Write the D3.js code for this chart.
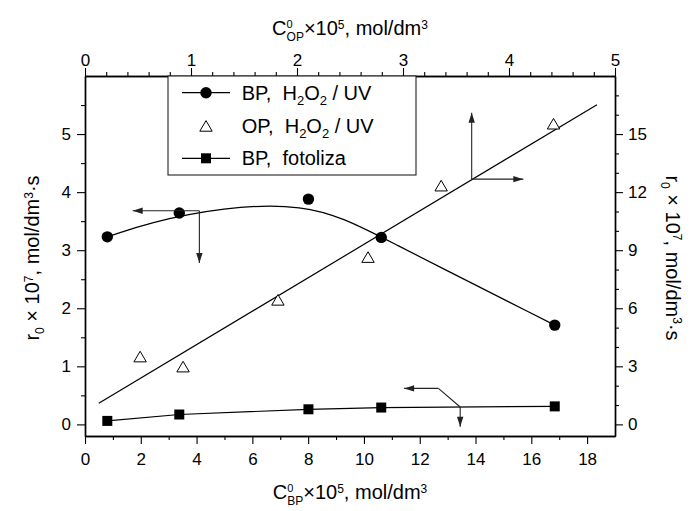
<!DOCTYPE html>
<html><head><meta charset="utf-8">
<script src="https://cdn.jsdelivr.net/npm/d3@7"></script>
<style>
body{margin:0;background:#fff;}
svg text{font-family: Arial, "Liberation Sans", Helvetica, sans-serif; fill:#000; white-space:pre;}
</style></head><body>
<svg id="c" width="692" height="511"></svg>
<script>
// ---- data ----
const bpConc      = [0.80, 3.38, 8.01, 10.62, 16.84];      // C0_BP x10^5 mol/dm3 (bottom axis)
const bpH2O2UV    = [3.23, 3.64, 3.88, 3.22, 1.71];        // r0 x10^7 (left axis)
const bpFotoliza  = [0.06, 0.17, 0.26, 0.29, 0.31];        // r0 x10^7 (left axis)
const opConc      = [0.52, 0.925, 1.82, 2.67, 3.36, 4.42]; // C0_OP x10^5 (top axis)
const opH2O2UV    = [3.50, 2.98, 6.43, 8.64, 12.33, 15.53];// r0 x10^7 (right axis)
const opFitConc   = [0.13, 4.83];                          // linear fit line ends (top axis)
const opFitRate   = [1.09, 16.52];                         // (right axis)
const bottomTicks = [0, 2, 4, 6, 8, 10, 12, 14, 16, 18];
const topTicks    = [0, 1, 2, 3, 4, 5];
const leftTicks   = [0, 1, 2, 3, 4, 5];
const rightTicks  = [0, 3, 6, 9, 12, 15];
const legendLabels = ["BP,  H|2|O|2| / UV", "OP,  H|2|O|2| / UV", "BP,  fotoliza"];

// ---- layout ----
const L = 85, R = 615, T = 76, B = 436;
const svg = d3.select("#c");
const x  = d3.scaleLinear().domain([0, 19]).range([L, R]);
const xT = d3.scaleLinear().domain([0, 5]).range([L, R]);
const yL = d3.scaleLinear().domain([-0.2, 6.0]).range([B, T]);
const yR = d3.scaleLinear().domain([-0.6, 18]).range([B, T]);

const bottomMinor = d3.range(1, 18, 2);
const topMinor = d3.range(1, 25).map(i => i * 0.2).filter(v => Math.abs(v - Math.round(v)) > 1e-6);
const leftMinor = d3.range(0, 6).map(i => i + 0.5);
const rightMinor = d3.range(1, 18).filter(v => v % 3 !== 0);

function styleAxis(g) {
  g.select(".domain").attr("stroke", "#000").attr("stroke-width", 1.4);
  g.selectAll(".tick line").attr("stroke", "#000").attr("stroke-width", 1.1);
  g.selectAll(".tick text").attr("font-size", 17).attr("fill", "#000")
    .style("font-family", 'Arial, "Liberation Sans", sans-serif');
}
function addAxis(makeAxis, pad, major, minor, transform) {
  const gM = svg.append("g").attr("transform", transform)
    .call(makeAxis().tickValues(minor).tickSize(4).tickSizeOuter(0).tickFormat(""));
  styleAxis(gM);
  const g = svg.append("g").attr("transform", transform)
    .call(makeAxis().tickValues(major).tickSize(8).tickSizeOuter(0).tickPadding(pad).tickFormat(d3.format("d")));
  styleAxis(g);
  return g;
}
addAxis(() => d3.axisBottom(x), 9, bottomTicks, bottomMinor, `translate(0,${B})`);
addAxis(() => d3.axisTop(xT), 2, topTicks, topMinor, `translate(0,${T})`);
addAxis(() => d3.axisLeft(yL), 6, leftTicks, leftMinor, `translate(${L},0)`);
addAxis(() => d3.axisRight(yR), 5, rightTicks, rightMinor, `translate(${R},0)`);

// ---- rich text helper ----
function rich(textSel, parts) {
  parts.forEach(p => {
    textSel.append("tspan").attr("font-size", p.s).attr("dy", p.dy || 0).attr("dx", p.dx || 0).text(p.t);
  });
  return textSel;
}
const xTitle = sub => [
  {t: "C", s: 20}, {t: "0", s: 11, dy: -7.5}, {t: sub, s: 12, dx: -6.1, dy: 13},
  {t: "×10", s: 20, dy: -5.5}, {t: "5", s: 12, dy: -6.5}, {t: ", mol/dm", s: 20, dy: 6.5}, {t: "3", s: 12, dy: -6.5}
];
rich(svg.append("text").attr("x", 350).attr("y", 35).attr("text-anchor", "middle"), xTitle("OP"));
rich(svg.append("text").attr("x", 350).attr("y", 499).attr("text-anchor", "middle"), xTitle("BP"));
const yTitle = [
  {t: "r", s: 20}, {t: "0", s: 12, dy: 5}, {t: " × 10", s: 20, dy: -5}, {t: "7", s: 12, dy: -6.5},
  {t: ", mol/dm", s: 20, dy: 6.5}, {t: "3", s: 12, dy: -6.5}, {t: "·s", s: 20, dy: 6.5}
];
rich(svg.append("text").attr("text-anchor", "middle").attr("transform", "translate(39,258) rotate(-90)"), yTitle);
rich(svg.append("text").attr("text-anchor", "middle").attr("transform", "translate(666,258) rotate(90)"), yTitle);

// ---- series ----
const plot = svg.append("g");
const bpPts = bpConc.map((c, i) => [x(c), yL(bpH2O2UV[i])]);
const fotPts = bpConc.map((c, i) => [x(c), yL(bpFotoliza[i])]);
const opPts = opConc.map((c, i) => [xT(c), yR(opH2O2UV[i])]);
const fitPts = opFitConc.map((c, i) => [xT(c), yR(opFitRate[i])]);

plot.append("path").attr("d", d3.line().curve(d3.curveBasis)(bpPts))
  .attr("fill", "none").attr("stroke", "#000").attr("stroke-width", 1.2);
plot.append("path").attr("d", d3.line()(fitPts))
  .attr("fill", "none").attr("stroke", "#000").attr("stroke-width", 1.2);
plot.append("path").attr("d", d3.line()(fotPts))
  .attr("fill", "none").attr("stroke", "#000").attr("stroke-width", 1.2);

const triPath = "M0,-5.4L6.2,5.2L-6.2,5.2Z";
function circle(g, p) { g.append("circle").attr("cx", p[0]).attr("cy", p[1]).attr("r", 5.7).attr("fill", "#000"); }
function square(g, p) { g.append("rect").attr("x", p[0] - 5).attr("y", p[1] - 5).attr("width", 10).attr("height", 10).attr("fill", "#000"); }
function tri(g, p) { g.append("path").attr("d", triPath).attr("transform", `translate(${p[0]},${p[1]})`)
  .attr("fill", "#fff").attr("stroke", "#000").attr("stroke-width", 1); }
bpPts.forEach(p => circle(plot, p));
fotPts.forEach(p => square(plot, p));
opPts.forEach(p => tri(plot, p));

// ---- annotation arrows (data coords) ----
function arrow(p0, p1, head) {
  svg.append("line").attr("x1", p0[0]).attr("y1", p0[1]).attr("x2", p1[0]).attr("y2", p1[1])
    .attr("stroke", "#222").attr("stroke-width", 1.1);
  if (head) {
    const a = Math.atan2(p1[1] - p0[1], p1[0] - p0[0]), len = 10, hw = 3.2;
    const bx = p1[0] - len * Math.cos(a), by = p1[1] - len * Math.sin(a);
    const nx = -Math.sin(a) * hw, ny = Math.cos(a) * hw;
    svg.append("path").attr("d", `M${p1[0]},${p1[1]}L${bx + nx},${by + ny}L${bx - nx},${by - ny}Z`).attr("fill", "#222");
  }
}
const BL = (a, b) => [x(a), yL(b)];
const TR = (a, b) => [xT(a), yR(b)];
// circles -> left & bottom
arrow(BL(4.10, 3.68), BL(1.71, 3.68), true);
arrow(BL(4.10, 3.68), BL(4.10, 2.78), true);
// triangles -> top & right
arrow(TR(3.648, 12.67), TR(4.135, 12.67), true);
arrow(TR(3.648, 12.67), TR(3.648, 16.1), true);
// squares -> left & bottom
arrow(BL(12.67, 0.62), BL(11.44, 0.62), true);
arrow(BL(12.67, 0.62), BL(13.45, 0.30), false);
arrow(BL(13.45, 0.30), BL(13.45, -0.04), true);

// ---- legend ----
const lg = svg.append("g");
lg.append("rect").attr("x", 168).attr("y", T).attr("width", 248).attr("height", 99)
  .attr("fill", "#fff").attr("stroke", "#222").attr("stroke-width", 1.1);
const rowsY = [92.7, 126, 158.3];
const markers = [circle, tri, square];
legendLabels.forEach((lab, i) => {
  const yy = rowsY[i];
  if (i !== 1) lg.append("line").attr("x1", 182).attr("x2", 230).attr("y1", yy).attr("y2", yy)
    .attr("stroke", "#000").attr("stroke-width", 1.2);
  markers[i](lg, [206, yy]);
  const t = lg.append("text").attr("x", 241.7).attr("y", yy + 7).attr("font-size", 20);
  const segs = lab.split("|");
  segs.forEach((s, k) => {
    const sub = k % 2 === 1;
    t.append("tspan").attr("font-size", sub ? 13 : 20)
      .attr("dy", k === 0 ? 0 : (sub ? 5 : -5)).text(s);
  });
});
</script>
</body></html>
